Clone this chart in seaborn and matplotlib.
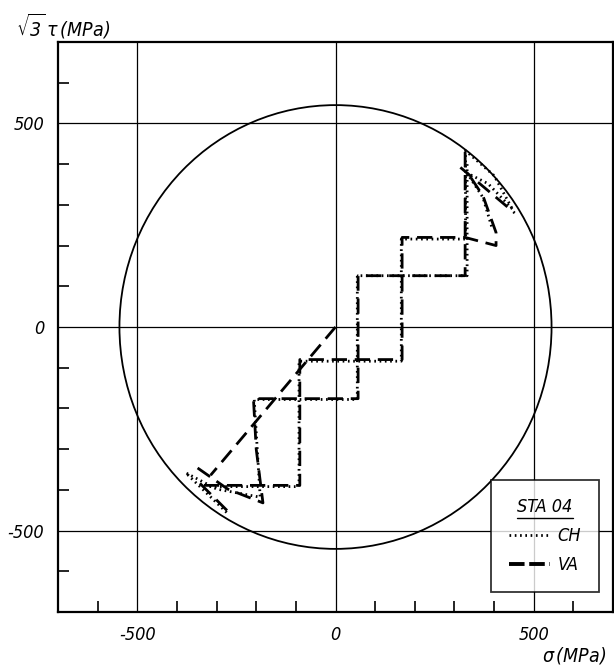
import numpy as np
import pandas as pd
import matplotlib
matplotlib.use("Agg")
import matplotlib.pyplot as plt
from matplotlib.patches import Circle
from matplotlib.lines import Line2D
from matplotlib.ticker import FixedLocator
import seaborn as sns

# von Mises yield circle radius (MPa)
yield_radius = 545

# CH path, split into segments: sigma (MPa), sqrt(3)*tau (MPa)
ch_segment = [0] * 9 + [1] * 5 + [2] * 9
ch_sigma = [-318, -92, -92, 166, 166, 328, 328, 400, 446,
            446, 385, 332, 372, 395,
            332, 332, 55, 55, -205, -190, -300, -378, -272]
ch_tau = [-392, -392, -84, -84, 216, 216, 433, 372, 290,
          290, 352, 378, 318, 243,
          400, 126, 126, -178, -178, -418, -398, -358, -458]

# VA path, split into segments
va_segment = [0] * 2 + [1] * 10 + [2] * 2 + [3] * 9 + [4] * 2
va_sigma = [0, -315,
            -332, -90, -90, 168, 168, 327, 405, 405, 372, 338,
            315, 452,
            327, 327, 57, 57, -207, -200, -183, -272, -360,
            -342, -262]
va_tau = [0, -364,
          -389, -389, -80, -80, 220, 220, 200, 232, 322, 372,
          392, 280,
          430, 126, 126, -176, -176, -300, -432, -398, -338,
          -384, -462]

major_ticks = [-500, 0, 500]
minor_ticks = [-600, -400, -300, -200, -100, 100, 200, 300, 400, 600]
tick_labels = ["-500", "0", "500"]
legend_title = "STA 04"
series_names = ["CH", "VA"]

ch = pd.DataFrame({"seg": ch_segment, "sigma": ch_sigma, "tau": ch_tau})
va = pd.DataFrame({"seg": va_segment, "sigma": va_sigma, "tau": va_tau})

sns.set_theme(style="white")
plt.rcParams["font.family"] = ["DejaVu Sans"]
plt.rcParams["font.style"] = "italic"
plt.rcParams["font.stretch"] = "condensed"
plt.rcParams["mathtext.fontset"] = "dejavusans"
for key in ["text.color", "axes.labelcolor", "xtick.color", "ytick.color",
            "legend.labelcolor"]:
    plt.rcParams[key] = "black"

fig = plt.figure(figsize=(6.14, 6.66), dpi=100)
ax = fig.add_axes([58 / 614, 54 / 666, 555 / 614, 570 / 666])

dot_style = (0, (0.6, 1.3))
dash_style = (0, (5.5, 2.8))

sns.lineplot(data=ch, x="sigma", y="tau", units="seg", estimator=None,
             sort=False, color="black", linewidth=2.0, ax=ax)
for ln in ax.lines:
    ln.set_linestyle(dot_style)
n_ch = len(ax.lines)
sns.lineplot(data=va, x="sigma", y="tau", units="seg", estimator=None,
             sort=False, color="black", linewidth=2.0, ax=ax)
for ln in ax.lines[n_ch:]:
    ln.set_linestyle(dash_style)

ax.add_patch(Circle((0, 0), yield_radius, fill=False, color="black",
                    linewidth=1.3, zorder=3))

for v in major_ticks:
    ax.axvline(v, color="black", linewidth=0.9, zorder=1)
    ax.axhline(v, color="black", linewidth=0.9, zorder=1)

ax.set_xlim(-700, 700)
ax.set_ylim(-700, 700)
ax.xaxis.set_major_locator(FixedLocator(major_ticks))
ax.yaxis.set_major_locator(FixedLocator(major_ticks))
ax.xaxis.set_minor_locator(FixedLocator(minor_ticks))
ax.yaxis.set_minor_locator(FixedLocator(minor_ticks))
ax.set_xticklabels(tick_labels)
ax.set_yticklabels(tick_labels)
ax.tick_params(which="both", direction="in", bottom=True, left=True,
               top=False, right=False, color="black", width=1.2)
ax.tick_params(which="major", length=0, labelsize=13, pad=10,
               labelcolor="black")
ax.tick_params(which="minor", length=8)
for sp in ax.spines.values():
    sp.set_color("black")
    sp.set_linewidth(1.6)
ax.set_xlabel("")
ax.set_ylabel("")

fig.text(16 / 614, 1 - 26 / 666, r"$\sqrt{3}\,\tau\,(MPa)$", fontsize=14,
         ha="left", va="center", color="black")
fig.text(606 / 614, 1 - 656 / 666, r"$\sigma\,(MPa)$", fontsize=14,
         ha="right", va="center", color="black")

handles = [Line2D([], [], color="black", linewidth=2.0, linestyle=dot_style),
           Line2D([], [], color="black", linewidth=2.8, linestyle=(0, (4, 1.2)))]
leg = ax.legend(handles, series_names, title=legend_title, loc="lower right",
                bbox_to_anchor=(0.975, 0.035), borderaxespad=0, fancybox=False,
                frameon=True, fontsize=13, title_fontsize=13, handlelength=2.3,
                handletextpad=0.4, labelspacing=0.6, borderpad=1.0)
leg.get_frame().set_edgecolor("black")
leg.get_frame().set_linewidth(1.3)
leg.get_title().set_color("black")
leg.set_zorder(10)

fig.canvas.draw()
bb = leg.get_title().get_window_extent(fig.canvas.get_renderer())
inv = fig.transFigure.inverted()
(x0, y0), (x1, y1) = inv.transform([(bb.x0, bb.y0 - 2), (bb.x1, bb.y0 - 2)])
fig.add_artist(Line2D([x0, x1], [y0, y1], color="black", linewidth=1.0,
                      transform=fig.transFigure, zorder=20))

fig.savefig("out.png", dpi=100)
